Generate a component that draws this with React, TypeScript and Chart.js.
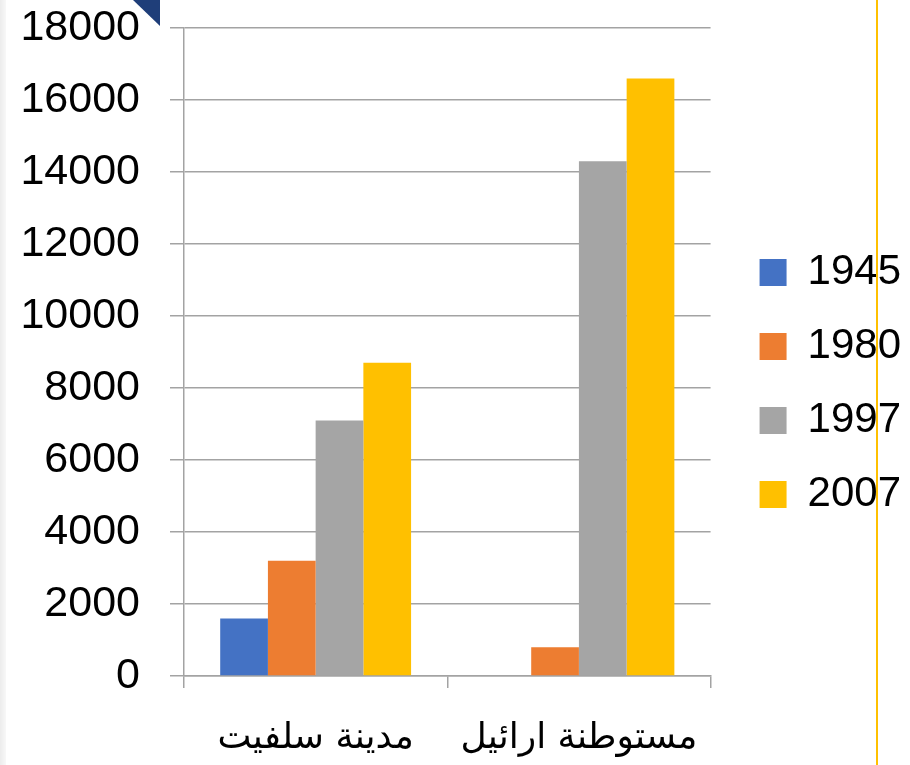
import React, { useEffect, useRef } from "react";
import { Chart, registerables } from "chart.js";

Chart.register(...registerables);

const categories = ["مدينة سلفيت", "مستوطنة ارائيل"];
const seriesLabels = ["1945", "1980", "1997", "2007"];
const values1945 = [1600, 0];
const values1980 = [3200, 800];
const values1997 = [7100, 14300];
const values2007 = [8700, 16600];
const seriesColors = ["#4472C4", "#ED7D31", "#A5A5A5", "#FFC000"];
const yMax = 18000;
const yStep = 2000;

const GRID = "#A3A3A3";

// Widen the legend box on its left side so the plot ends where the reference does,
// and shift the drawn legend items by the same amount.
const legendGapPlugin = {
  id: "legendGap",
  afterInit(chart: any) {
    const legend = chart.legend;
    if (!legend || legend.__patched) return;
    legend.__patched = true;
    const origFit = legend.fit.bind(legend);
    legend.fit = function () {
      origFit();
      this.width += 16;
    };
    const origDraw = legend.draw.bind(legend);
    legend.draw = function () {
      const ctx = this.ctx;
      ctx.save();
      ctx.translate(17, 0);
      origDraw();
      ctx.restore();
    };
  },
};

export default function App() {
  const ref = useRef<HTMLCanvasElement | null>(null);

  useEffect(() => {
    if (!ref.current) return;
    const allValues = [values1945, values1980, values1997, values2007];
    const chart = new Chart(ref.current, {
      type: "bar",
      data: {
        labels: categories,
        datasets: seriesLabels.map((label, i) => ({
          label,
          data: allValues[i],
          backgroundColor: seriesColors[i],
          borderWidth: 0,
          categoryPercentage: 0.725,
          barPercentage: 1,
        })),
      },
      plugins: [legendGapPlugin],
      options: {
        responsive: false,
        animation: false,
        layout: { padding: { left: 20, top: 7, right: 0, bottom: 5 } },
        plugins: {
          tooltip: { enabled: false },
          legend: {
            position: "right",
            labels: {
              boxWidth: 27,
              boxHeight: 27,
              padding: 32,
              color: "#000",
              font: { family: "'Liberation Sans', Arial, sans-serif", size: 42 },
            },
          },
        },
        scales: {
          x: {
            grid: {
              display: true,
              drawOnChartArea: false,
              offset: true,
              color: GRID,
              lineWidth: 1.5,
              tickLength: 12,
            },
            border: { color: GRID, width: 1.5 },
            ticks: {
              color: "#000",
              padding: 29,
              font: { family: "'DejaVu Sans', sans-serif", size: 36 },
            },
            afterFit: (scale: any) => {
              scale.paddingLeft = 0;
              scale.paddingRight = 0;
              scale.height = 84;
            },
          },
          y: {
            min: 0,
            max: yMax,
            ticks: {
              stepSize: yStep,
              color: "#000",
              padding: 30,
              font: { family: "'Liberation Sans', Arial, sans-serif", size: 43 },
              callback: (v: any) => String(v),
            },
            grid: { color: GRID, lineWidth: 1.5, tickLength: 14 },
            border: { color: GRID, width: 1.5 },
            afterFit: (scale: any) => {
              scale.paddingTop = 28;
              scale.paddingBottom = 0;
              scale.width = 164;
            },
          },
        },
      } as any,
    });
    return () => chart.destroy();
  }, []);

  return (
    <div style={{ position: "fixed", left: 0, top: 0, width: 910, height: 765, background: "#fff" }}>
      <div style={{ position: "absolute", left: 0, top: 0, width: 6, height: 765, background: "linear-gradient(to right, #ececec, #f8f8f8)" }} />
      <canvas ref={ref} width={910} height={765} style={{ position: "absolute", left: 0, top: 0 }} />
      <div
        style={{
          position: "absolute",
          left: 133,
          top: 0,
          width: 0,
          height: 0,
          borderTop: "26px solid #1F3E79",
          borderLeft: "27px solid transparent",
        }}
      />
      <div style={{ position: "absolute", left: 876, top: 0, width: 2, height: 765, background: "#FFC000" }} />
    </div>
  );
}
